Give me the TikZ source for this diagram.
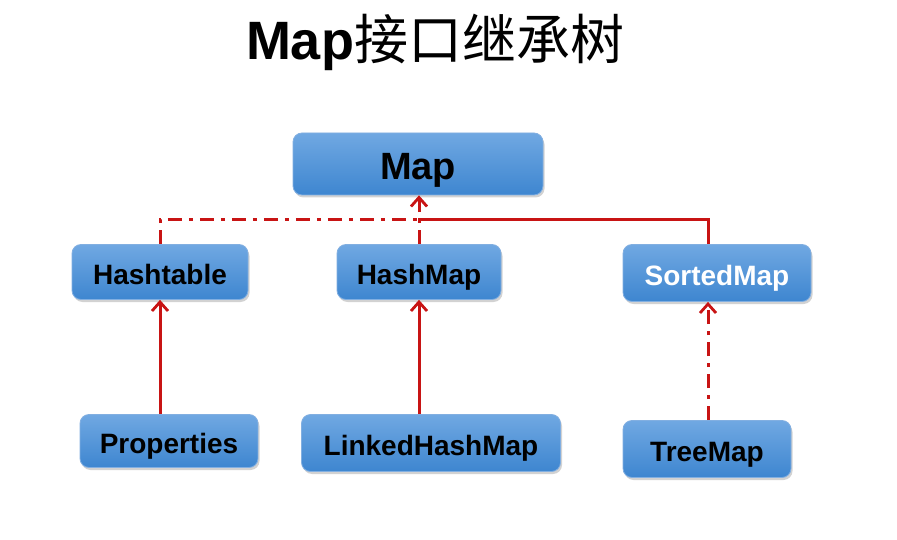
\documentclass[tikz,border=0pt]{standalone}
\usepackage{fontspec}
\setmainfont{Liberation Sans}
\newfontfamily\cjk{Noto Sans CJK SC}
\usetikzlibrary{arrows.meta,shadows}
\definecolor{lnred}{RGB}{200,20,20}
\definecolor{boxtop}{RGB}{112,168,226}
\definecolor{boxbot}{RGB}{62,134,208}
\definecolor{boxline}{RGB}{130,175,225}
\tikzset{
  cls/.style={rounded corners=9pt, top color=boxtop, bottom color=boxbot, draw=boxline, line width=0.8pt,
    drop shadow={shadow xshift=1.5pt, shadow yshift=-2.5pt, opacity=0.35},
    font=\fontsize{28}{30}\selectfont\bfseries, text=black, inner sep=0pt,
    text height=25pt, text depth=0pt},
  link/.style={draw=lnred, line width=3pt},
  dd/.style={dash pattern=on 14pt off 7pt on 4pt off 7pt},
  tip/.style={-{Straight Barb[length=9pt,width=16pt,line width=2.8pt]}},
}
\begin{document}
\begin{tikzpicture}[x=1pt,y=-1pt]
\useasboundingbox[fill=white] (0,0) rectangle (897,540);
\node (title) at (435,42) {\fontsize{54}{60}\selectfont\bfseries Map{\cjk\mdseries 接口继承树}};
\node[cls, minimum width=250pt, minimum height=62pt, font=\fontsize{38}{40}\selectfont\bfseries, text height=32pt] (Map) at (418,164) {Map};
\node[cls, minimum width=176pt, minimum height=55pt] (Hashtable) at (160,272) {Hashtable};
\node[cls, minimum width=164pt, minimum height=55pt] (HashMap) at (419,272) {HashMap};
\node[cls, minimum width=188pt, minimum height=57pt, text=white] (SortedMap) at (717,273) {SortedMap};
\node[cls, minimum width=178pt, minimum height=53pt] (Properties) at (169,441) {Properties};
\node[cls, minimum width=259pt, minimum height=57pt] (LinkedHashMap) at (431,443) {LinkedHashMap};
\node[cls, minimum width=168pt, minimum height=57pt] (TreeMap) at (707,449) {TreeMap};
\coordinate (jl) at (160,220);
\coordinate (jm) at (418,220);
\coordinate (jr) at (708,220);
% dash-dot branches
\draw[link, dd] (Hashtable.north) -- (jl) -- (jm);
\draw[link, dd, tip] (HashMap.north) -- (HashMap.north |- Map.south);
\draw[link] (jm) -- (jr) -- (jr |- SortedMap.north);
% lower links
\draw[link, tip] (Hashtable.south |- Properties.north) -- (Hashtable.south);
\draw[link, tip] (HashMap.south |- LinkedHashMap.north) -- (HashMap.south);
\draw[link, dd, tip] (jr |- TreeMap.north) -- (jr |- SortedMap.south);
\end{tikzpicture}
\end{document}
